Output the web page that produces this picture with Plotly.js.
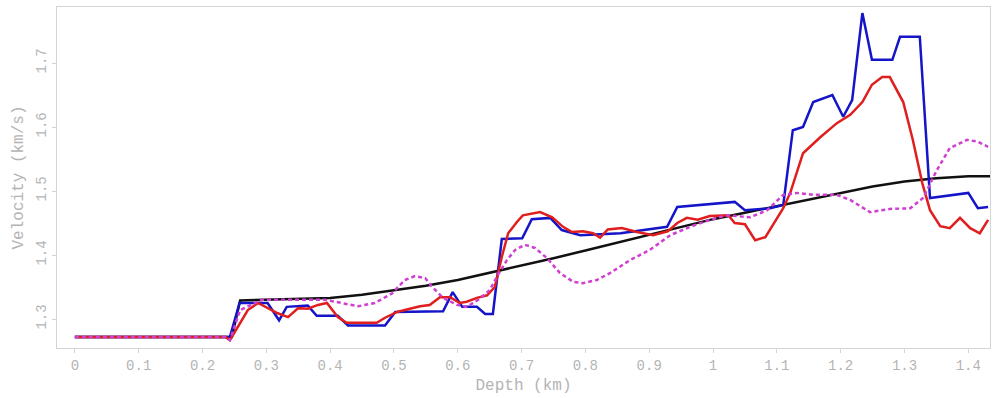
<!DOCTYPE html>
<html>
<head>
<meta charset="utf-8">
<script src="https://cdn.plot.ly/plotly-3.0.1.min.js"></script>
<style>html,body{margin:0;padding:0;background:#fff;}#chart{width:1000px;height:398px;}</style>
</head>
<body>
<div id="chart"></div>
<script>
// Blue (step-like) velocity profile
const blueDepth = [0, 0.243, 0.258, 0.302, 0.320, 0.332, 0.365, 0.379, 0.412, 0.428, 0.486, 0.502, 0.577, 0.592, 0.607, 0.630, 0.643, 0.655, 0.669, 0.701, 0.716, 0.745, 0.763, 0.792, 0.855, 0.928, 0.944, 1.034, 1.050, 1.089, 1.110, 1.125, 1.141, 1.157, 1.187, 1.204, 1.218, 1.234, 1.249, 1.281, 1.293, 1.324, 1.340, 1.400, 1.415, 1.431];
const blueVel = [1.272, 1.272, 1.325, 1.325, 1.298, 1.319, 1.321, 1.305, 1.305, 1.290, 1.290, 1.311, 1.312, 1.342, 1.319, 1.319, 1.308, 1.308, 1.425, 1.426, 1.456, 1.458, 1.439, 1.431, 1.434, 1.444, 1.475, 1.483, 1.470, 1.473, 1.478, 1.595, 1.600, 1.639, 1.650, 1.616, 1.642, 1.778, 1.705, 1.705, 1.741, 1.741, 1.489, 1.497, 1.473, 1.475];

// Red velocity profile
const redDepth = [0, 0.236, 0.243, 0.271, 0.287, 0.302, 0.318, 0.334, 0.350, 0.365, 0.381, 0.395, 0.412, 0.426, 0.451, 0.473, 0.486, 0.505, 0.525, 0.541, 0.556, 0.572, 0.588, 0.603, 0.614, 0.630, 0.646, 0.658, 0.669, 0.679, 0.693, 0.702, 0.729, 0.748, 0.765, 0.779, 0.796, 0.812, 0.823, 0.835, 0.857, 0.881, 0.906, 0.929, 0.944, 0.959, 0.976, 0.995, 1.024, 1.034, 1.050, 1.066, 1.082, 1.094, 1.110, 1.121, 1.141, 1.168, 1.194, 1.215, 1.234, 1.249, 1.265, 1.277, 1.298, 1.313, 1.328, 1.340, 1.356, 1.371, 1.387, 1.403, 1.418, 1.431];
const redVel = [1.272, 1.272, 1.267, 1.314, 1.325, 1.317, 1.309, 1.303, 1.317, 1.316, 1.322, 1.325, 1.303, 1.294, 1.294, 1.294, 1.302, 1.311, 1.316, 1.320, 1.322, 1.334, 1.334, 1.325, 1.327, 1.333, 1.337, 1.350, 1.397, 1.434, 1.452, 1.462, 1.467, 1.459, 1.444, 1.436, 1.437, 1.434, 1.427, 1.440, 1.442, 1.436, 1.431, 1.437, 1.450, 1.458, 1.455, 1.461, 1.462, 1.450, 1.448, 1.423, 1.428, 1.447, 1.473, 1.497, 1.559, 1.584, 1.606, 1.619, 1.639, 1.666, 1.678, 1.678, 1.639, 1.580, 1.512, 1.470, 1.445, 1.442, 1.458, 1.442, 1.434, 1.455];

// Black smooth background profile
const blackDepth = [0, 0.246, 0.259, 0.30, 0.35, 0.40, 0.45, 0.50, 0.55, 0.60, 0.65, 0.70, 0.75, 0.80, 0.85, 0.90, 0.95, 1.00, 1.05, 1.10, 1.15, 1.20, 1.25, 1.30, 1.35, 1.40, 1.434];
const blackVel = [1.272, 1.272, 1.329, 1.330, 1.331, 1.333, 1.338, 1.345, 1.352, 1.361, 1.372, 1.383, 1.395, 1.407, 1.419, 1.432, 1.444, 1.456, 1.466, 1.476, 1.486, 1.496, 1.507, 1.515, 1.520, 1.523, 1.523];

// Magenta dashed profile
const magDepth = [0, 0.236, 0.243, 0.259, 0.293, 0.392, 0.418, 0.444, 0.470, 0.497, 0.517, 0.533, 0.549, 0.560, 0.577, 0.599, 0.614, 0.632, 0.650, 0.663, 0.677, 0.690, 0.705, 0.721, 0.740, 0.760, 0.781, 0.796, 0.818, 0.839, 0.870, 0.901, 0.933, 0.964, 0.995, 1.022, 1.058, 1.085, 1.110, 1.132, 1.157, 1.194, 1.215, 1.246, 1.277, 1.309, 1.329, 1.351, 1.371, 1.398, 1.415, 1.431];
const magVel = [1.272, 1.272, 1.267, 1.314, 1.330, 1.330, 1.325, 1.320, 1.325, 1.340, 1.361, 1.367, 1.364, 1.350, 1.333, 1.322, 1.319, 1.330, 1.345, 1.369, 1.392, 1.408, 1.416, 1.411, 1.395, 1.372, 1.358, 1.356, 1.361, 1.372, 1.392, 1.408, 1.431, 1.444, 1.455, 1.462, 1.459, 1.470, 1.494, 1.497, 1.494, 1.494, 1.486, 1.467, 1.472, 1.473, 1.489, 1.533, 1.567, 1.580, 1.577, 1.569];

const xTickVals = [0, 0.1, 0.2, 0.3, 0.4, 0.5, 0.6, 0.7, 0.8, 0.9, 1, 1.1, 1.2, 1.3, 1.4];
const xTickText = ["0", "0.1", "0.2", "0.3", "0.4", "0.5", "0.6", "0.7", "0.8", "0.9", "1", "1.1", "1.2", "1.3", "1.4"];
const yTickVals = [1.3, 1.4, 1.5, 1.6, 1.7];
const yTickText = ["1.3", "1.4", "1.5", "1.6", "1.7"];

const traces = [
  {x: blackDepth, y: blackVel, mode: 'lines', line: {color: '#111111', width: 2.5}},
  {x: blueDepth, y: blueVel, mode: 'lines', line: {color: '#1414c8', width: 2.5}},
  {x: redDepth, y: redVel, mode: 'lines', line: {color: '#e01e1e', width: 2.5}},
  {x: magDepth, y: magVel, mode: 'lines', line: {color: '#d040d0', width: 2.5, dash: '4px,3px'}}
];

const fontFam = '"Liberation Mono", "DejaVu Sans Mono", monospace';
const layout = {
  width: 1000, height: 398,
  margin: {l: 57, r: 10, t: 7, b: 50},
  paper_bgcolor: '#ffffff', plot_bgcolor: '#ffffff',
  showlegend: false,
  font: {family: fontFam, color: '#b4b4b4', size: 14},
  xaxis: {
    range: [-0.028, 1.434],
    tickvals: xTickVals, ticktext: xTickText,
    showgrid: false, zeroline: false,
    showline: true, mirror: true, linecolor: '#d4d4d4', linewidth: 1,
    ticks: 'outside', ticklen: 4, tickcolor: '#d4d4d4',
    tickfont: {family: fontFam, size: 14, color: '#b4b4b4'},
    title: {text: 'Depth (km)', font: {family: fontFam, size: 16, color: '#b4b4b4'}, standoff: 6}
  },
  yaxis: {
    range: [1.2547, 1.7875],
    tickvals: yTickVals, ticktext: yTickText,
    tickangle: -90,
    showgrid: false, zeroline: false,
    showline: true, mirror: true, linecolor: '#d4d4d4', linewidth: 1,
    ticks: 'outside', ticklen: 4, tickcolor: '#d4d4d4',
    tickfont: {family: fontFam, size: 14, color: '#b4b4b4'},
    title: {text: 'Velocity (km/s)', font: {family: fontFam, size: 16, color: '#b4b4b4'}, standoff: 6}
  }
};

Plotly.newPlot('chart', traces, layout, {displayModeBar: false, staticPlot: true});
</script>
</body>
</html>
